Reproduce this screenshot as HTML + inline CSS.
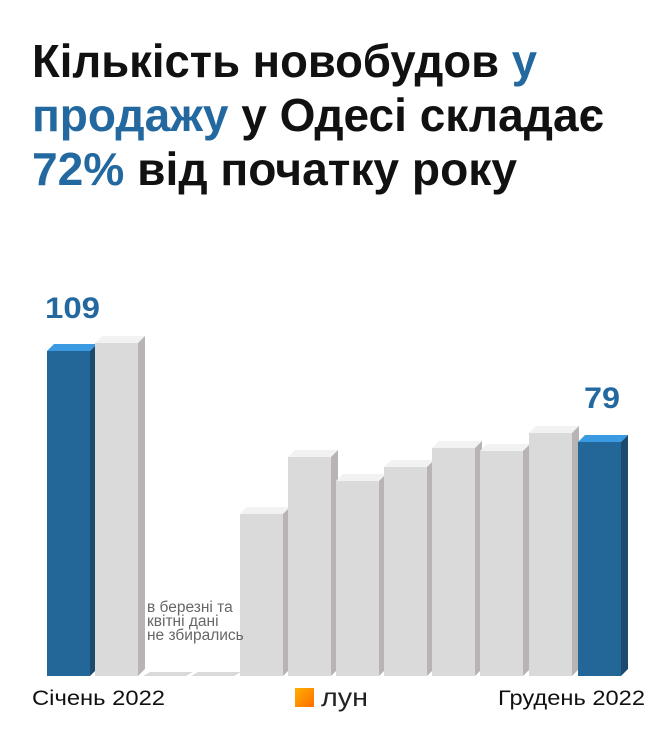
<!DOCTYPE html>
<html><head><meta charset="utf-8"><style>
body{margin:0;background:#fff;width:668px;height:734px;overflow:hidden;font-family:"Liberation Sans",sans-serif}
</style></head><body>
<svg width="668" height="734" xmlns="http://www.w3.org/2000/svg">
<defs><linearGradient id="lg" x1="0" y1="0" x2="1" y2="1"><stop offset="0" stop-color="#ffb000"/><stop offset="1" stop-color="#ff6d00"/></linearGradient></defs>
<g font-family="Liberation Sans, sans-serif" font-weight="bold" font-size="46">
<text x="32" y="77" fill="#111" textLength="505" lengthAdjust="spacingAndGlyphs">Кількість новобудов <tspan fill="#2369a0">у</tspan></text>
<text x="32" y="131" textLength="572" lengthAdjust="spacingAndGlyphs"><tspan fill="#2369a0">продажу</tspan><tspan fill="#111"> у Одесі складає</tspan></text>
<text x="32" y="185" textLength="485" lengthAdjust="spacingAndGlyphs"><tspan fill="#2369a0">72%</tspan><tspan fill="#111"> від початку року</tspan></text>
</g>
<g id="bars">
<polygon points="47,351 90,351 97,344 54,344" fill="#3a9be3"/><rect x="47" y="351" width="43" height="325" fill="#236799"/><polygon points="90,351 97,344 97,669 90,676" fill="#1b4a6e"/>
<polygon points="95,343 138,343 145,336 102,336" fill="#f2f2f2"/><rect x="95" y="343" width="43" height="333" fill="#dadada"/><polygon points="138,343 145,336 145,669 138,676" fill="#b8b4b4"/>
<polygon points="143,676 186,676 193,672 150,672" fill="#dadada"/>
<polygon points="191,676 234,676 241,672 198,672" fill="#dadada"/>
<polygon points="240,514 283,514 290,507 247,507" fill="#f2f2f2"/><rect x="240" y="514" width="43" height="162" fill="#dadada"/><polygon points="283,514 290,507 290,669 283,676" fill="#b8b4b4"/>
<polygon points="288,457 331,457 338,450 295,450" fill="#f2f2f2"/><rect x="288" y="457" width="43" height="219" fill="#dadada"/><polygon points="331,457 338,450 338,669 331,676" fill="#b8b4b4"/>
<polygon points="336,481 379,481 386,474 343,474" fill="#f2f2f2"/><rect x="336" y="481" width="43" height="195" fill="#dadada"/><polygon points="379,481 386,474 386,669 379,676" fill="#b8b4b4"/>
<polygon points="384,467 427,467 434,460 391,460" fill="#f2f2f2"/><rect x="384" y="467" width="43" height="209" fill="#dadada"/><polygon points="427,467 434,460 434,669 427,676" fill="#b8b4b4"/>
<polygon points="432,448 475,448 482,441 439,441" fill="#f2f2f2"/><rect x="432" y="448" width="43" height="228" fill="#dadada"/><polygon points="475,448 482,441 482,669 475,676" fill="#b8b4b4"/>
<polygon points="480,451 523,451 530,444 487,444" fill="#f2f2f2"/><rect x="480" y="451" width="43" height="225" fill="#dadada"/><polygon points="523,451 530,444 530,669 523,676" fill="#b8b4b4"/>
<polygon points="529,433 572,433 579,426 536,426" fill="#f2f2f2"/><rect x="529" y="433" width="43" height="243" fill="#dadada"/><polygon points="572,433 579,426 579,669 572,676" fill="#b8b4b4"/>
<polygon points="578,442 621,442 628,435 585,435" fill="#3a9be3"/><rect x="578" y="442" width="43" height="234" fill="#236799"/><polygon points="621,442 628,435 628,669 621,676" fill="#1b4a6e"/>
</g>
<g font-family="Liberation Sans, sans-serif" font-weight="bold" font-size="30" fill="#2369a0">
<text x="45" y="318" textLength="55" lengthAdjust="spacingAndGlyphs">109</text><text x="584" y="408" textLength="36" lengthAdjust="spacingAndGlyphs">79</text>
</g>
<g font-family="Liberation Sans, sans-serif" font-size="15.5" fill="#666">
<text x="147" y="612">в березні та</text><text x="147" y="626">квітні дані</text><text x="147" y="640">не збирались</text>
</g>
<g font-family="Liberation Sans, sans-serif" font-size="21" fill="#111">
<text x="32" y="705" textLength="133" lengthAdjust="spacingAndGlyphs">Січень 2022</text><text x="498" y="705" textLength="147" lengthAdjust="spacingAndGlyphs">Грудень 2022</text>
</g>
<rect x="295" y="688" width="19" height="19" fill="url(#lg)"/>
<text x="321" y="706" font-family="Liberation Sans, sans-serif" font-size="26" fill="#222" textLength="47" lengthAdjust="spacingAndGlyphs">лун</text>
</svg>
</body></html>
